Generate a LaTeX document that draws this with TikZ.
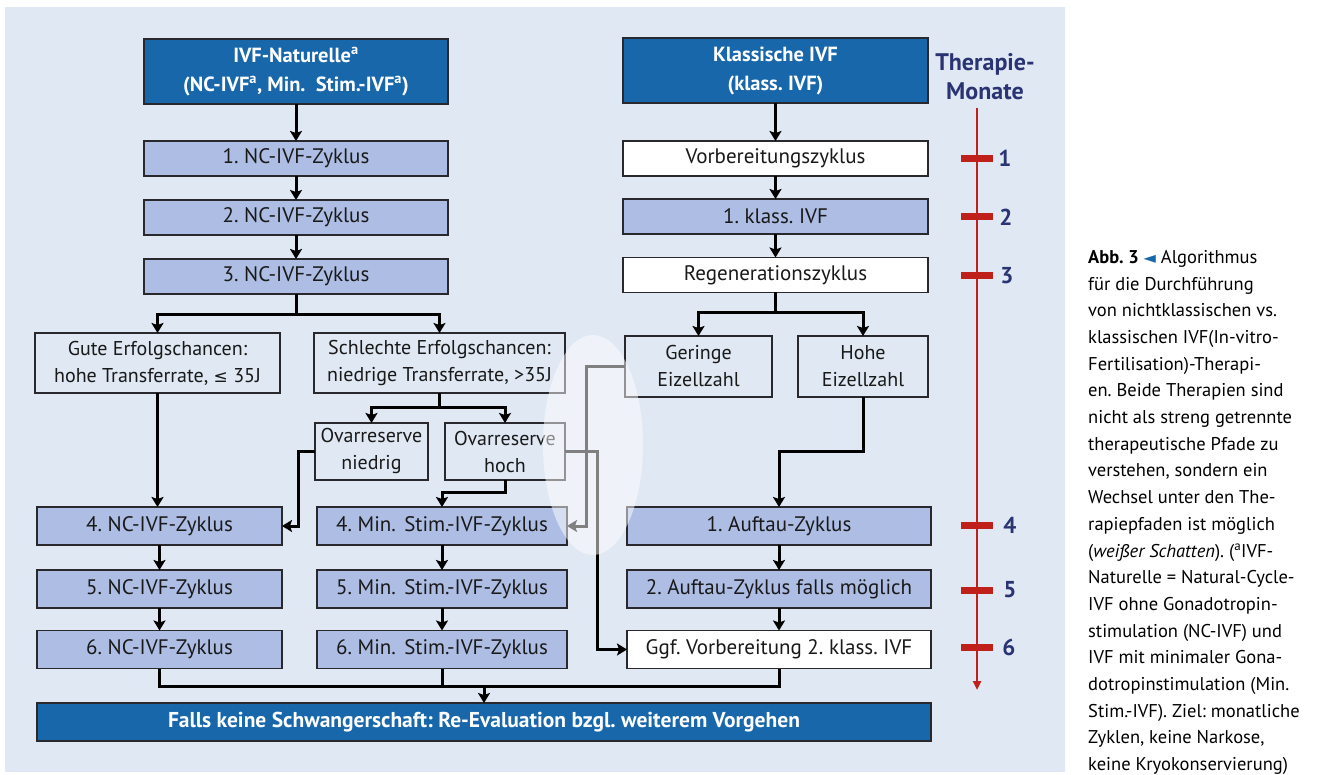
\documentclass[tikz,border=0pt]{standalone}
\usepackage{fontspec}
\setmainfont{PT Sans}
\newfontfamily\dejavu{DejaVu Sans}
\usetikzlibrary{arrows.meta}
\definecolor{bgc}{RGB}{223,232,243}
\definecolor{hdr}{RGB}{24,103,171}
\definecolor{lav}{RGB}{173,189,228}
\definecolor{bord}{RGB}{40,40,45}
\definecolor{redc}{RGB}{192,32,26}
\definecolor{navy}{RGB}{42,52,115}
\definecolor{txt}{RGB}{25,25,25}
\frenchspacing
\begin{document}
\begin{tikzpicture}[x=1pt,y=-1pt,
  base/.style={draw=bord, line width=1.4pt, inner sep=0pt, outer sep=0pt, align=center, text=txt, font=\fontsize{21}{27}\selectfont},
  hdrbox/.style={base, fill=hdr, text=white, font=\bfseries\fontsize{20.5}{29}\selectfont},
  lavbox/.style={base, fill=lav},
  whbox/.style={base, fill=white},
  plainbox/.style={base, font=\fontsize{20}{27}\selectfont},
  conn/.style={line width=3pt, black},
  arr/.style={conn, -{Stealth[length=10pt,width=12pt,inset=2pt]}},
  tick/.style={line width=7pt, redc},
  num/.style={text=navy, font=\bfseries\fontsize{23}{26}\selectfont, inner sep=0pt}
]
\useasboundingbox (0,0) rectangle (1334,775);
\fill[white] (0,0) rectangle (1334,775);
\fill[bgc] (5,7) rectangle (1065,772);

% left column top
\node[hdrbox, minimum width=304pt, minimum height=65pt] (hdrL) at (296,71.5) {IVF-Naturelle\textsuperscript{a}\\(NC-IVF\textsuperscript{a}, Min.\hspace{0.5em}Stim.-IVF\textsuperscript{a})};
\node[lavbox, minimum width=304pt, minimum height=35pt] (nc1) at (296,158.5) {1. NC-IVF-Zyklus};
\node[lavbox, minimum width=304pt, minimum height=35pt] (nc2) at (296,217.5) {2. NC-IVF-Zyklus};
\node[lavbox, minimum width=304pt, minimum height=35pt] (nc3) at (296,276.5) {3. NC-IVF-Zyklus};

% right column top
\node[hdrbox, minimum width=305pt, minimum height=65pt] (hdrR) at (775.5,70.5) {Klassische IVF\\(klass. IVF)};
\node[whbox, minimum width=305pt, minimum height=35pt] (vorb) at (775.5,158.5) {Vorbereitungszyklus};
\node[lavbox, minimum width=305pt, minimum height=35pt] (kl1) at (775.5,216.5) {1. klass. IVF};
\node[whbox, minimum width=305pt, minimum height=35pt] (regen) at (775.5,275) {Regenerationszyklus};

% decision boxes
\node[plainbox, minimum width=245pt, minimum height=60pt] (gute) at (157.5,363) {Gute Erfolgschancen:\\hohe Transferrate, {\dejavu\fontsize{17}{20}\selectfont ≤} 35J};
\node[plainbox, minimum width=251pt, minimum height=60pt] (schl) at (439.5,363) {Schlechte Erfolgschancen:\\niedrige Transferrate, >35J};
\node[plainbox, minimum width=147pt, minimum height=61pt] (ger) at (698.5,366.5) {Geringe\\Eizellzahl};
\node[plainbox, minimum width=130pt, minimum height=61pt] (hoh) at (863,366.5) {Hohe\\Eizellzahl};
\node[plainbox, minimum width=113pt, minimum height=57pt] (ovn) at (371.5,451.5) {Ovarreserve\\niedrig};
\node[plainbox, minimum width=120pt, minimum height=57pt] (ovh) at (505,451.5) {Ovarreserve\\hoch};

% lower rows
\node[lavbox, minimum width=245pt, minimum height=38pt] (nc4) at (159.5,526) {4. NC-IVF-Zyklus};
\node[lavbox, minimum width=250pt, minimum height=38pt] (ms4) at (442,526) {4. Min.\hspace{0.4em}Stim.-IVF-Zyklus};
\node[lavbox, minimum width=304pt, minimum height=38pt] (au1) at (779,526) {1. Auftau-Zyklus};
\node[lavbox, minimum width=245pt, minimum height=38pt] (nc5) at (159.5,589) {5. NC-IVF-Zyklus};
\node[lavbox, minimum width=250pt, minimum height=38pt] (ms5) at (442,589) {5. Min.\hspace{0.4em}Stim.-IVF-Zyklus};
\node[lavbox, minimum width=304pt, minimum height=38pt] (au2) at (779,589) {2. Auftau-Zyklus falls möglich};
\node[lavbox, minimum width=245pt, minimum height=38pt] (nc6) at (159.5,649.5) {6. NC-IVF-Zyklus};
\node[lavbox, minimum width=250pt, minimum height=38pt] (ms6) at (442,649.5) {6. Min.\hspace{0.4em}Stim.-IVF-Zyklus};
\node[whbox, minimum width=304pt, minimum height=38pt] (ggf) at (779,649.5) {Ggf. Vorbereitung 2. klass. IVF};
\node[hdrbox, minimum width=894pt, minimum height=38pt, font=\bfseries\fontsize{21.5}{26}\selectfont] (falls) at (484,722) {Falls keine Schwangerschaft: Re-Evaluation bzgl. weiterem Vorgehen};

% connectors left column
\draw[arr] (hdrL) -- (nc1);
\draw[arr] (nc1) -- (nc2);
\draw[arr] (nc2) -- (nc3);
\coordinate (b1) at (296,315);
\draw[conn] (nc3.south) -- (b1);
\draw[arr] (b1) -| (gute);
\draw[arr] (b1) -| (schl);
\coordinate (b2) at (439.5,408);
\draw[conn] (schl.south) -- (b2);
\draw[arr] (b2) -| (ovn);
\draw[arr] (b2) -| (ovh);
\draw[arr] (gute.south) -- (gute.south |- nc4.north);
\coordinate (cn) at (298,451.5);
\draw[arr] (ovn.west) -- (cn) |- (nc4.east);
\coordinate (ch) at (505,493);
\draw[arr] (ovh.south) -- (ch) -| (ms4.north);
\coordinate (cg) at (586,366.5);
\draw[arr] (ger.west) -- (cg) |- (ms4.east);
\coordinate (cv) at (597,451.5);
\draw[arr] (ovh.east) -- (cv) |- (ggf.west);
\draw[arr] (nc4) -- (nc5);
\draw[arr] (nc5) -- (nc6);
\draw[arr] (ms4) -- (ms5);
\draw[arr] (ms5) -- (ms6);

% right column connectors
\draw[arr] (hdrR) -- (vorb);
\draw[arr] (vorb) -- (kl1);
\draw[arr] (kl1) -- (regen);
\coordinate (b4) at (775.5,313);
\draw[conn] (regen.south) -- (b4);
\draw[arr] (b4) -| (ger);
\draw[arr] (b4) -| (hoh);
\coordinate (ch2) at (863,452);
\draw[arr] (hoh.south) -- (ch2) -| (au1.north);
\draw[arr] (au1) -- (au2);
\draw[arr] (au2) -- (ggf);

% bottom merge
\coordinate (bot) at (484,686);
\draw[conn] (nc6.south) -- (nc6.south |- bot) -- (ggf.south |- bot) -- (ggf.south);
\draw[conn] (ms6.south) -- (ms6.south |- bot);
\draw[arr] (bot) -- (falls.north);

% white shadow
\fill[white, opacity=0.5] (593,445) ellipse [x radius=50, y radius=110];

% therapy months
\node[text=navy, font=\bfseries\fontsize{24}{29}\selectfont, align=center, inner sep=0pt] (tm) at (985,77) {Therapie-\\Monate};
\coordinate (rtop) at (977,108);
\coordinate (rbot) at (977,690);
\draw[redc, line width=2.8pt, -{Triangle[length=9pt,width=8pt]}] (rtop) -- (rbot);
\draw[tick] (961,158.5) -- (993,158.5);
\draw[tick] (961,217) -- (993,217);
\draw[tick] (961,276) -- (993,276);
\draw[tick] (961,525) -- (993,525);
\draw[tick] (961,590) -- (993,590);
\draw[tick] (961,647) -- (993,647);
\node[num] (m1) at (1005,158) {1};
\node[num] (m2) at (1006,217) {2};
\node[num] (m3) at (1007,276) {3};
\node[num] (m4) at (1010,525) {4};
\node[num] (m5) at (1010,590) {5};
\node[num] (m6) at (1009,647) {6};

% caption
\node[anchor=north west, inner sep=0pt, align=left, text=black, font=\fontsize{18.5}{26.7}\selectfont] (cap) at (1088,250) {%
\textbf{Abb. 3} {\dejavu\fontsize{16}{16}\selectfont\color{hdr}◄} Algorithmus\\
für die Durchführung\\
von nichtklassischen vs.\\
klassischen IVF(In-vitro-\\
Fertilisation)-Therapi-\\
en. Beide Therapien sind\\
nicht als streng getrennte\\
therapeutische Pfade zu\\
verstehen, sondern ein\\
Wechsel unter den The-\\
rapiepfaden ist möglich\\
(\textit{weißer Schatten}). (\textsuperscript{a}IVF-\\
Naturelle = Natural-Cycle-\\
IVF ohne Gonadotropin-\\
stimulation (NC-IVF) und\\
IVF mit minimaler Gona-\\
dotropinstimulation (Min.\\
Stim.-IVF). Ziel: monatliche\\
Zyklen, keine Narkose,\\
keine Kryokonservierung)};
\end{tikzpicture}
\end{document}
